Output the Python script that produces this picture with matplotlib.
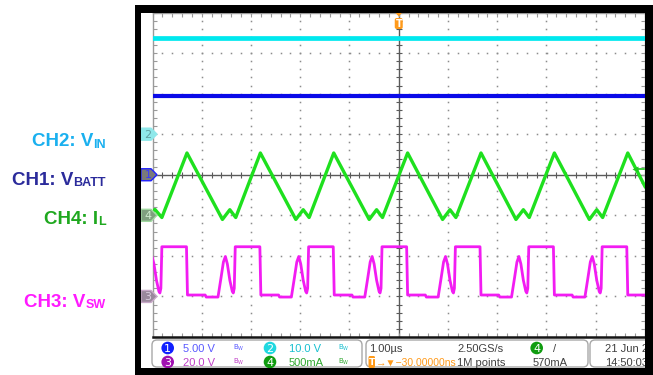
import numpy as np
import matplotlib
matplotlib.use('Agg')
import matplotlib.pyplot as plt
from matplotlib.patches import FancyBboxPatch, Polygon, Circle, Rectangle

W, H = 653, 375
PANEL_FONT = ['Liberation Sans', 'DejaVu Sans']

# scope settings: units per division, ground marker position (div)
ch_scale = {'1': 5.0, '2': 10.0, '3': 20.0, '4': 500.0}
ch_offset = {'1': 0.0, '2': 1.0, '3': -3.0, '4': -1.0}

# CH2 V_IN and CH1 V_BATT (V), flat
t_flat = [-5.0, 5.0]
vin = [23.7, 23.7]
vbatt = [9.7, 9.7]

# CH4 inductor current (us, mA)
t_il = [-5.00, -4.95, -4.81, -4.30, -3.58, -3.43, -3.31, -2.81, -2.09, -1.94,
        -1.82, -1.32, -0.60, -0.45, -0.33, 0.18, 0.89, 1.04, 1.16, 1.67,
        2.38, 2.53, 2.65, 3.16, 3.87, 4.02, 4.14, 4.65, 5.00]
il = [50, 72, -27, 768, -51, 69, -27, 768, -51, 69,
      -27, 768, -51, 69, -27, 768, -51, 69, -27, 768,
      -51, 69, -27, 768, -51, 69, -27, 768, 355]

# CH3 switch node: falling edge times (us) and one cycle read after each edge
t_fall = [-5.80, -4.31, -2.82, -1.33, 0.16, 1.65, 3.14, 4.63]
dt_cycle = [0.0, 0.02, 0.38, 0.40, 0.64, 0.70, 0.75, 0.79, 0.83, 0.88, 0.93, 0.95, 0.97, 0.99]
v_cycle = [24.5, 0.7, 0.7, -0.3, -0.3, 9.0, 17.0, 19.7, 16.0, 8.0, 2.5, 1.7, 4.0, 24.5]

trig_level = 570.0  # mA on CH4


def to_div(vals, ch):
    return [ch_offset[ch] + v / ch_scale[ch] for v in vals]


t_sw, v_sw = [], []
for f in t_fall:
    for d, v in zip(dt_cycle, v_cycle):
        t_sw.append(f + d)
        v_sw.append(v)

fig = plt.figure(figsize=(W / 100, H / 100), dpi=100)

# graticule (pixel box 152.5..645 x 12.5..337)
gx0, gx1, gy0, gy1 = 152.5, 645.0, 12.5, 337.0
ax = fig.add_axes([gx0 / W, (H - gy1) / H, (gx1 - gx0) / W, (gy1 - gy0) / H])
ax.set_xlim(-5, 5)
ax.set_ylim(-4, 4)
ax.set_xticks(np.arange(-5, 5.01, 0.2))
ax.set_yticks(np.arange(-4, 4.01, 0.2))
ax.tick_params(direction='in', length=3, width=0.8, color='#9a9a9a',
               top=True, right=True, labelleft=False, labelbottom=False)
for s in ax.spines.values():
    s.set_color('#9a9a9a')
    s.set_linewidth(1.0)
ax.spines['bottom'].set_color('#151515')
ax.spines['bottom'].set_linewidth(1.8)

# dotted grid
minor_y = np.arange(-4, 4.01, 0.2)
minor_x = np.arange(-5, 5.01, 0.2)
for gx in range(-4, 5):
    if gx != 0:
        ax.plot([gx] * len(minor_y), minor_y, ls='', marker='s', ms=1.1,
                mec='none', color='#8c8c8c', zorder=1)
for gy in range(-3, 4):
    if gy != 0:
        ax.plot(minor_x, [gy] * len(minor_x), ls='', marker='s', ms=1.1,
                mec='none', color='#8c8c8c', zorder=1)

# centre crosshair with ticks
ax.axhline(0, color='#5a5a5a', lw=1.0, zorder=1)
ax.axvline(0, color='#5a5a5a', lw=1.0, zorder=1)
ax.plot(minor_x, [0] * len(minor_x), ls='', marker='|', ms=4, mew=0.8, color='#5a5a5a', zorder=1)
ax.plot([0] * len(minor_y), minor_y, ls='', marker='_', ms=4, mew=0.8, color='#5a5a5a', zorder=1)

# traces
ax.plot(t_flat, to_div(vin, '2'), color='#00e8ee', lw=3.4, zorder=3)
ax.plot(t_flat, to_div(vbatt, '1'), color='#0a0ae8', lw=3.0, zorder=3)
ax.plot(t_sw, to_div(v_sw, '3'), color='#f21cf2', lw=2.0, zorder=3)
ax.plot(t_il, to_div(il, '4'), color='#1ee01e', lw=2.4, zorder=4)

# trigger level arrow (CH4)
lvl = to_div([trig_level], '4')[0]
ax.plot([4.80, 4.97], [lvl, lvl], color='#1ec81e', lw=1.2, zorder=5)
ax.plot([4.80], [lvl], marker='<', ms=5, color='#1ec81e', mec='none', zorder=5)

# overlay in pixel coordinates
ov = fig.add_axes([0, 0, 1, 1], zorder=5)
ov.set_xlim(0, W)
ov.set_ylim(H, 0)
ov.axis('off')
ov.patch.set_alpha(0)


def ypx(div):
    return gy0 + (4 - div) * (gy1 - gy0) / 8


# channel ground markers
markers = [('2', '#8ee8ea', '#8ee8ea', '#5e9ea0'),
           ('1', '#7a7a7a', '#2020ff', '#3a3aff'),
           ('4', '#7f9f7f', '#a0d8a0', '#d0ecd0'),
           ('3', '#9a889c', '#c8a8c8', '#dccfe0')]
for ch, fc, ec, tc in markers:
    y = ypx(ch_offset[ch])
    ov.add_patch(Polygon([(141, y - 6), (151, y - 6), (157, y), (151, y + 6), (141, y + 6)],
                         closed=True, fc=fc, ec=ec, lw=1.0, zorder=6))
    ov.text(148, y + 0.5, ch, color=tc, fontsize=8, ha='center', va='center',
            family='DejaVu Sans', zorder=7)

# trigger position marker
tx = gx0 + 5 * (gx1 - gx0) / 10
ov.add_patch(Polygon([(tx - 3.5, 12.5), (tx + 3.5, 12.5), (tx, 16.5)], closed=True,
                     fc='#ff9a1a', ec='none', zorder=6))
ov.add_patch(FancyBboxPatch((tx - 4, 18), 8, 11, boxstyle='round,pad=0,rounding_size=2',
                            fc='#ff9a1a', ec='none', zorder=6))
ov.text(tx, 23.8, 'T', color='white', fontsize=7, ha='center', va='center',
        family='DejaVu Sans', fontweight='bold', zorder=7)

# left labels: main text + subscript, right aligned at x=106
renderer = fig.canvas.get_renderer()
labels = [('CH2: V', 'IN', 139, '#1ab0ef'),
          ('CH1: V', 'BATT', 178, '#2b2b9b'),
          ('CH4: I', 'L', 216.5, '#1fa81f'),
          ('CH3: V', 'SW', 300, '#ff1aff')]
for main, sub, y, c in labels:
    st = ov.text(106, y + 8.5, sub, color=c, fontsize=9, fontweight='bold',
                 family='Liberation Sans', ha='right', va='baseline')
    wpx = st.get_window_extent(renderer).width
    ov.text(106 - wpx - 0.3, y + 7, main, color=c, fontsize=13.5, fontweight='bold',
            family='Liberation Sans', ha='right', va='baseline')

# readout panel
for x, w in [(152, 210), (366, 222), (590, 70)]:
    ov.add_patch(FancyBboxPatch((x, 340), w, 27, boxstyle='round,pad=0,rounding_size=5',
                                fc='white', ec='#a8a8a8', lw=1.0, zorder=2))

r1, r2 = 348, 362
circles = [(167.7, r1, '1', '#1020ff'), (167.7, r2, '3', '#a010b0'),
           (270, r1, '2', '#20d8e0'), (270, r2, '4', '#109c10'),
           (536.7, r1, '4', '#109c10')]
for cx, cy, n, c in circles:
    ov.add_patch(Circle((cx, cy), 6.3, fc=c, ec='none', zorder=3))
    ov.text(cx, cy + 0.5, n, color='white', fontsize=8, ha='center', va='center',
            family='DejaVu Sans', zorder=4)

readouts = [(183, r1, '5.00 V', '#5a5aff'), (183, r2, '20.0 V', '#c040c8'),
            (289, r1, '10.0 V', '#18c0d0'), (289, r2, '500mA', '#30a830'),
            (369, r1, '1.00\u00b5s', '#404040'), (457, r1, '2.50GS/s', '#404040'),
            (457, r2, '1M points', '#404040'), (553, r1, '/', '#404040'),
            (533, r2, '570mA', '#404040'),
            (605, r1, '21 Jun 20', '#404040'), (605, r2, '14:50:03', '#404040')]
for x, y, s, c in readouts:
    ov.text(x, y + 0.5, s, color=c, fontsize=8, ha='left', va='center',
            family=PANEL_FONT, zorder=4)
ov.text(376, r2 + 0.5, '\u2192\u25bc\u221230.00000ns', color='#ff9a1a', fontsize=7.5,
        ha='left', va='center', family=PANEL_FONT, zorder=4)

for x, y, c in [(233, r1, '#5a5aff'), (233, r2, '#c040c8'),
                (338, r1, '#18c0d0'), (338, r2, '#30a830')]:
    ov.text(x, y, r'$\mathregular{B_W}$', color=c, fontsize=5, ha='left', va='center', zorder=4)

ov.add_patch(FancyBboxPatch((368.5, r2 - 6), 6.5, 12, boxstyle='round,pad=0,rounding_size=1.5',
                            fc='#ff9a1a', ec='none', zorder=4))
ov.text(371.7, r2 + 0.5, 'T', color='white', fontsize=6.5, ha='center', va='center',
        family='DejaVu Sans', fontweight='bold', zorder=5)

# black frame of the screenshot
for rect in [(135, 5, 518, 7.5), (135, 5, 6, 370), (645, 5, 8, 370), (135, 368, 518, 7)]:
    ov.add_patch(Rectangle(rect[:2], rect[2], rect[3], fc='black', ec='none', zorder=8))

fig.savefig('out.png', dpi=100)
